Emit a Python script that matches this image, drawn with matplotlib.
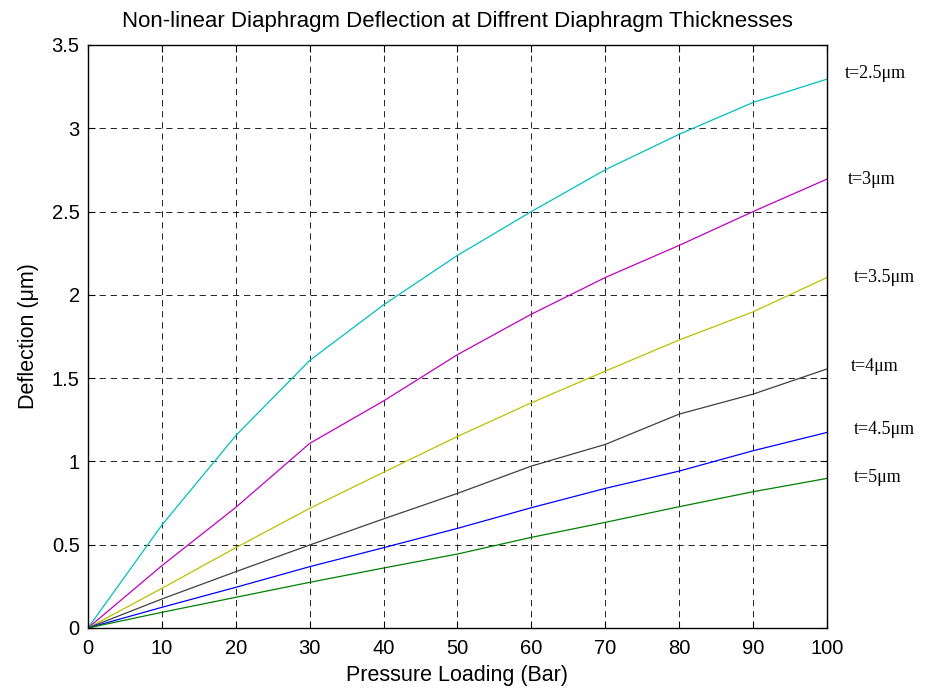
import numpy as np
import matplotlib
matplotlib.use("Agg")
import matplotlib.pyplot as plt

plt.rcParams['font.family'] = ['Liberation Sans', 'DejaVu Sans']
plt.rcParams['lines.scale_dashes'] = False

# pressure loading (Bar)
pressure = [0, 10, 20, 30, 40, 50, 60, 70, 80, 90, 100]

# deflection (um) for each diaphragm thickness
defl_t25 = [0, 0.618, 1.155, 1.606, 1.940, 2.237, 2.500, 2.751, 2.964, 3.155, 3.295]
defl_t30 = [0, 0.374, 0.724, 1.108, 1.363, 1.641, 1.884, 2.104, 2.297, 2.500, 2.695]
defl_t35 = [0, 0.238, 0.482, 0.718, 0.935, 1.150, 1.352, 1.542, 1.729, 1.898, 2.104]
defl_t40 = [0, 0.174, 0.338, 0.498, 0.655, 0.808, 0.972, 1.102, 1.284, 1.404, 1.555]
defl_t45 = [0, 0.124, 0.244, 0.368, 0.482, 0.598, 0.722, 0.838, 0.942, 1.064, 1.174]
defl_t50 = [0, 0.094, 0.184, 0.274, 0.360, 0.444, 0.544, 0.634, 0.728, 0.818, 0.898]

labels = ['t=2.5\u03bcm', 't=3\u03bcm', 't=3.5\u03bcm', 't=4\u03bcm', 't=4.5\u03bcm', 't=5\u03bcm']
series = [defl_t25, defl_t30, defl_t35, defl_t40, defl_t45, defl_t50]
colors = [(0, 0.75, 0.75), (0.75, 0, 0.75), (0.75, 0.75, 0),
          (0.25, 0.25, 0.25), (0, 0, 1), (0, 0.5, 0)]
# label anchor positions (data coords, outside the axes)
label_x = [102.4, 102.8, 103.6, 103.2, 103.6, 103.6]
label_y = [3.33, 2.69, 2.107, 1.57, 1.19, 0.906]

fig = plt.figure(figsize=(9.33, 6.9), dpi=100)
ax = fig.add_axes([0.0943, 0.0899, 0.7921, 0.8449])

for y, col in zip(series, colors):
    ax.plot(pressure, y, color=col, linewidth=0.9)

for lbl, lx, ly in zip(labels, label_x, label_y):
    ax.text(lx, ly, lbl, fontsize=13, family=['Liberation Serif', 'DejaVu Serif'],
            ha='left', va='center', clip_on=False)

ax.set_xlim(0, 100)
ax.set_ylim(0, 3.5)
ax.set_xticks(np.arange(0, 101, 10))
ax.set_yticks(np.arange(0, 3.51, 0.5))
ax.set_yticklabels(['0', '0.5', '1', '1.5', '2', '2.5', '3', '3.5'])
ax.tick_params(direction='in', length=5, width=0.8, labelsize=14.5,
               top=True, right=True)
ax.tick_params(axis='x', pad=8)
ax.tick_params(axis='y', pad=6)
for sp in ax.spines.values():
    sp.set_linewidth(1.0)

ax.grid(True, color='black', linestyle=(0, (4.5, 3.5)), linewidth=0.6)
ax.set_axisbelow(True)

ax.set_xlabel('Pressure Loading (Bar)', fontsize=15.5, labelpad=5)
ax.set_ylabel('Deflection (\u03bcm)', fontsize=15.5, labelpad=9)
ax.set_title('Non-linear Diaphragm Deflection at Diffrent Diaphragm Thicknesses',
             fontsize=16, pad=13)

fig.savefig('out.png', dpi=100)
